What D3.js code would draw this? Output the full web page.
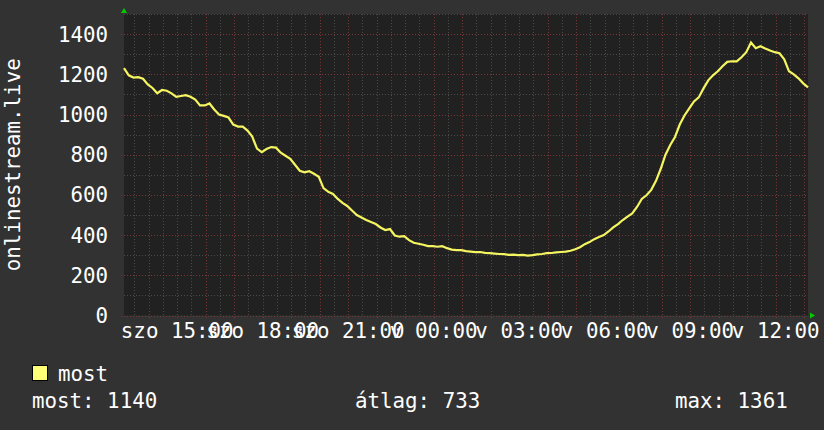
<!DOCTYPE html>
<html>
<head>
<meta charset="utf-8">
<script src="https://cdn.jsdelivr.net/npm/d3@7"></script>
<style>
  html, body { margin: 0; padding: 0; background: #323232; }
  text { font-family: "DejaVu Sans Mono", monospace; font-size: 20.8px; fill: #ffffff; }
</style>
</head>
<body>
<svg id="chart" width="824" height="430"></svg>
<script>
// 24h of viewer counts, one sample every 10 minutes
var START = new Date(2024, 2, 2, 13, 8);
var STEP_MIN = 10;
var VIEWERS = [
  1231, 1195, 1184, 1186, 1178, 1150, 1132, 1106, 1122, 1118,
  1105, 1088, 1092, 1096, 1088, 1074, 1045, 1045, 1055, 1025,
  1000, 993, 985, 950, 940, 940, 920, 890, 830, 813,
  828, 838, 835, 810, 795, 780, 750, 720, 712, 718,
  705, 690, 634, 615, 605, 580, 560, 545, 522, 500,
  488, 475, 465, 455, 438, 425, 430, 398, 392, 395,
  375, 362, 357, 352, 345, 345, 342, 345, 335, 328,
  325, 325, 320, 318, 315, 316, 312, 310, 308, 306,
  305, 302, 303, 300, 302, 298, 300, 304, 306, 310,
  311, 314, 316, 318, 322, 330, 340, 355, 365, 380,
  390, 400, 418, 438, 455, 475, 492, 508, 540, 580,
  598, 625, 670, 730, 800, 848, 888, 950, 995, 1030,
  1065, 1085, 1130, 1170, 1195, 1215, 1240, 1262, 1265, 1264,
  1285, 1310, 1358, 1330, 1340, 1328, 1318, 1310, 1305, 1275,
  1215, 1200, 1180, 1155, 1135
];
var Y_TICKS = [0, 200, 400, 600, 800, 1000, 1200, 1400];
var DAY_NAMES = ['v', 'h', 'k', 'sze', 'cs', 'p', 'szo'];
var SERIES_NAME = 'most';
var STAT_LABELS = ['most', 'átlag', 'max'];
var STAT_VALUES = [1140, 733, 1361];
var AXIS_TITLE = 'onlinestream.live';

var LEFT = 124, RIGHT = 808, TOP = 14, BOTTOM = 315.5;

var svg = d3.select('#chart');
svg.append('rect').attr('width', 824).attr('height', 430).attr('fill', '#323232');
svg.append('rect')
    .attr('x', LEFT).attr('y', TOP)
    .attr('width', RIGHT - LEFT).attr('height', BOTTOM - TOP)
    .attr('fill', '#212121');

var points = VIEWERS.map(function(v, i) {
  return {t: d3.timeMinute.offset(START, i * STEP_MIN), v: v};
});

var x = d3.scaleTime()
    .domain([START, d3.timeHour.offset(START, 24)])
    .range([LEFT, RIGHT]);
var y = d3.scaleLinear().domain([0, 1500]).range([BOTTOM, TOP]);

var grid = svg.append('g');

// minor grid
grid.selectAll('.vminor').data(d3.timeMinute.every(30).range(x.domain()[0], x.domain()[1]))
  .enter().append('line')
    .attr('x1', function(d) { return Math.round(x(d)) + 0.5; })
    .attr('x2', function(d) { return Math.round(x(d)) + 0.5; })
    .attr('y1', TOP).attr('y2', BOTTOM)
    .attr('stroke', '#4a4a4a').attr('stroke-dasharray', '1,2');
grid.selectAll('.hminor').data(d3.range(100, 1600, 100))
  .enter().append('line')
    .attr('x1', LEFT).attr('x2', RIGHT)
    .attr('y1', function(d) { return Math.round(y(d)) + 0.5; })
    .attr('y2', function(d) { return Math.round(y(d)) + 0.5; })
    .attr('stroke', '#4a4a4a').attr('stroke-dasharray', '1,2');

// major grid
grid.selectAll('.vmajor').data(d3.timeHour.every(1).range(x.domain()[0], x.domain()[1]))
  .enter().append('line')
    .attr('x1', function(d) { return Math.round(x(d)) + 0.5; })
    .attr('x2', function(d) { return Math.round(x(d)) + 0.5; })
    .attr('y1', TOP).attr('y2', BOTTOM + 3)
    .attr('stroke', '#763838').attr('stroke-dasharray', '1,2');
grid.selectAll('.hmajor').data(Y_TICKS)
  .enter().append('line')
    .attr('x1', LEFT - 3).attr('x2', RIGHT)
    .attr('y1', function(d) { return Math.round(y(d)) + 0.5; })
    .attr('y2', function(d) { return Math.round(y(d)) + 0.5; })
    .attr('stroke', '#763838').attr('stroke-dasharray', '1,2');

// y labels
svg.append('g').selectAll('text').data(Y_TICKS)
  .enter().append('text')
    .attr('x', 108)
    .attr('y', function(d) { return y(d); })
    .attr('dy', '0.36em')
    .attr('text-anchor', 'end')
    .text(function(d) { return d; });

// x labels every 3 hours
var labelTimes = d3.timeHour.every(3).range(x.domain()[0], x.domain()[1]);
svg.append('g').selectAll('text').data(labelTimes)
  .enter().append('text')
    .attr('x', function(d) { return x(d); })
    .attr('y', 338)
    .attr('text-anchor', 'middle')
    .text(function(d) { return DAY_NAMES[d.getDay()] + ' ' + d3.timeFormat('%H:%M')(d); });

// axis title
svg.append('text')
    .attr('transform', 'translate(20,' + ((TOP + BOTTOM) / 2) + ') rotate(-90)')
    .attr('text-anchor', 'middle')
    .text(AXIS_TITLE);

// data line
var line = d3.line()
    .x(function(d) { return x(d.t); })
    .y(function(d) { return y(d.v); });
svg.append('path')
    .datum(points)
    .attr('d', line)
    .attr('fill', 'none')
    .attr('stroke', '#f5f562')
    .attr('stroke-width', 2.2)
    .attr('stroke-linejoin', 'miter');

// axis arrows
svg.append('path')
    .attr('d', 'M' + (LEFT - 3) + ',13 L' + (LEFT + 3) + ',13 L' + LEFT + ',8 Z')
    .attr('fill', '#00cc00');
svg.append('path')
    .attr('d', 'M' + (RIGHT + 2) + ',' + (BOTTOM - 3) + ' L' + (RIGHT + 2) + ',' + (BOTTOM + 3) +
        ' L' + (RIGHT + 7) + ',' + BOTTOM + ' Z')
    .attr('fill', '#00cc00');

// legend
svg.append('rect')
    .attr('x', 32.5).attr('y', 365.5).attr('width', 15).attr('height', 15)
    .attr('fill', '#ffff77').attr('stroke', '#000').attr('stroke-width', 1);
svg.append('text').attr('x', 58).attr('y', 381).text(SERIES_NAME);

var statX = [32, 355, 675];
svg.append('g').selectAll('text').data(STAT_LABELS)
  .enter().append('text')
    .attr('x', function(d, i) { return statX[i]; })
    .attr('y', 408)
    .text(function(d, i) { return d + ': ' + STAT_VALUES[i]; });
</script>
</body>
</html>
